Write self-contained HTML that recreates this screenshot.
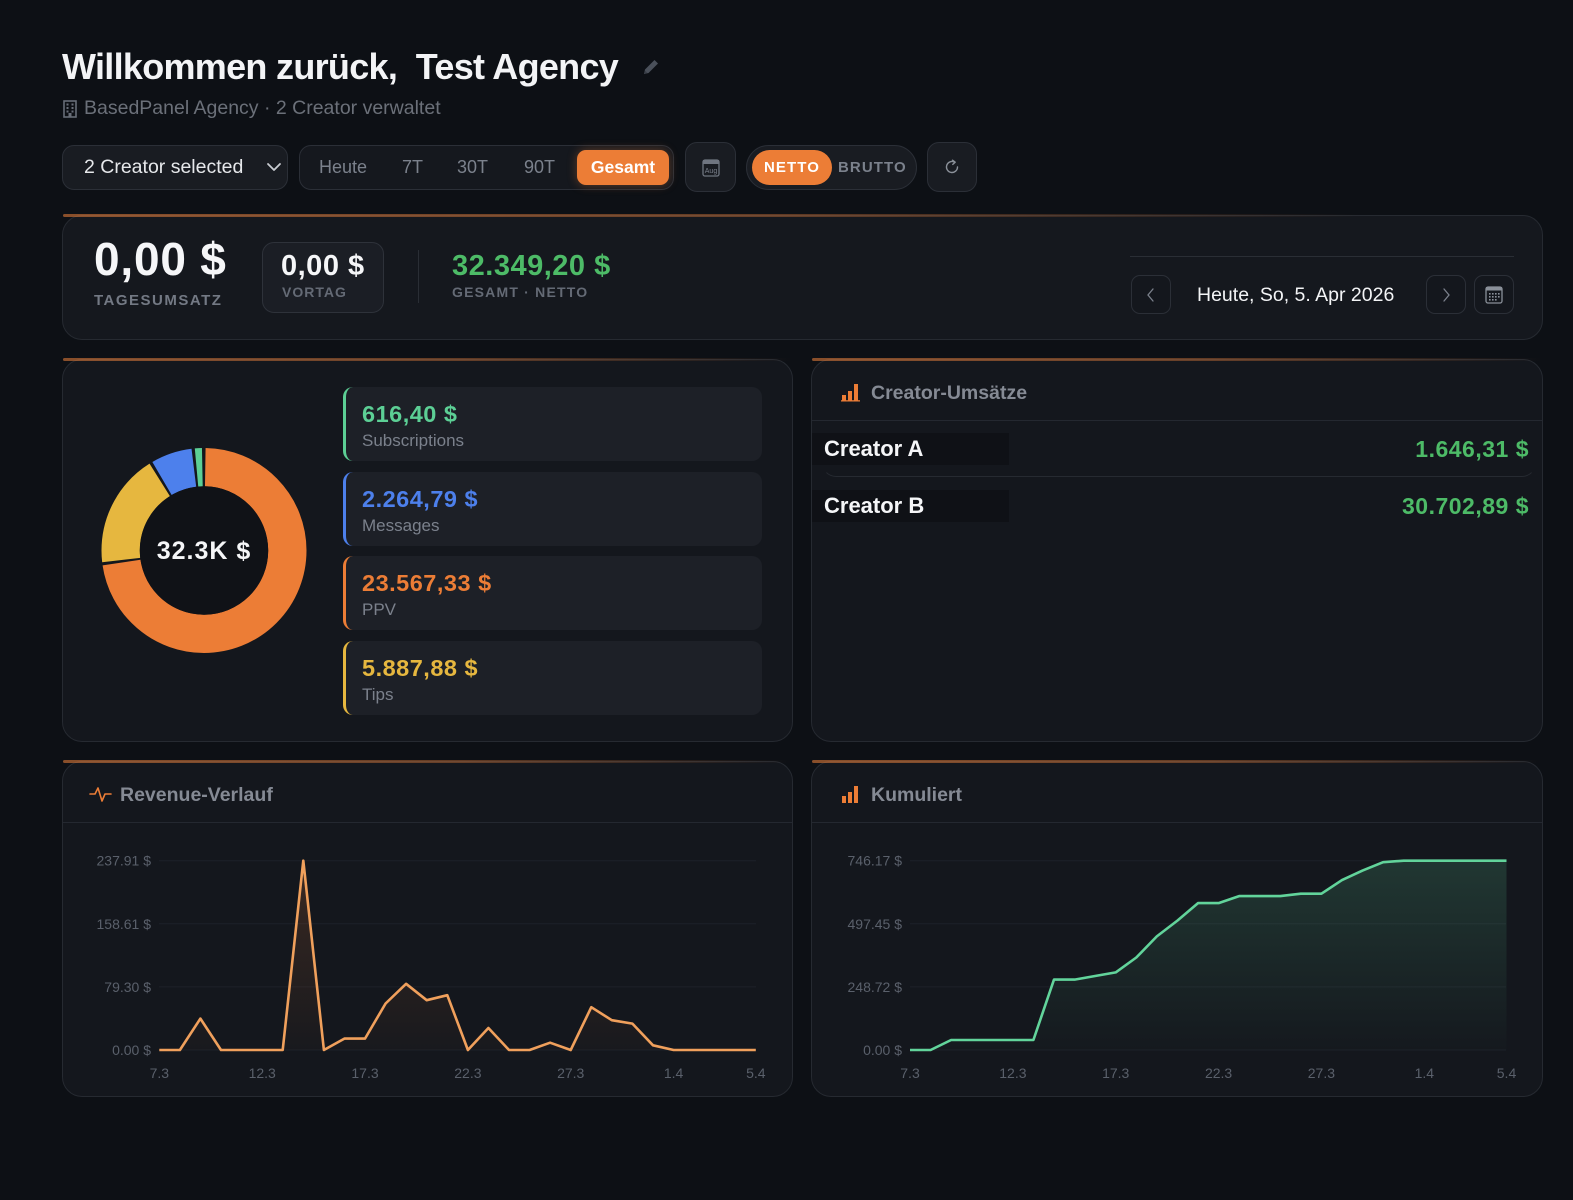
<!DOCTYPE html>
<html>
<head>
<meta charset="utf-8">
<style>
*{box-sizing:border-box;margin:0;padding:0}
html,body{width:1573px;height:1200px;background:#0d1015;overflow:hidden}
body{font-family:"Liberation Sans",Arial,sans-serif;color:#e8eaee}
#root{position:relative;width:1573px;height:1200px;background:#0d1015}
.a{position:absolute;white-space:nowrap}
.card{position:absolute;background:#14171d;border:1px solid #262a31;border-radius:20px}
.accent{position:absolute;height:3px;border-radius:2px;background:linear-gradient(90deg,rgba(214,118,56,0.62),rgba(214,118,56,0.42) 55%,rgba(214,118,56,0))}
.btn{position:absolute;background:#191c22;border:1px solid #2b2f37;border-radius:12px}
.tile{position:absolute;left:343px;width:419px;height:74px;background:#1d2027;border-radius:10px;border-left:3px solid}
.tv{position:absolute;left:16px;top:14px;font-size:23.5px;font-weight:bold;letter-spacing:0.5px;line-height:26px}
.tl{position:absolute;left:16px;top:44px;font-size:17px;color:#7b818c;line-height:20px}
.hdr{position:absolute;font-size:19.5px;font-weight:bold;color:#858a94;line-height:24px}
.divh{position:absolute;height:1px;background:#242830}
</style>
</head>
<body>
<div id="root">

<!-- Title -->
<div class="a" style="left:62px;top:47px;font-size:36px;line-height:40px;font-weight:bold;color:#f3f4f6;letter-spacing:-0.7px">Willkommen zurück,&nbsp; Test Agency</div>
<svg class="a" style="left:640px;top:56px" width="22" height="22" viewBox="0 0 22 22">
  <path d="M4 18 L5 13.5 L14.5 4 L18 7.5 L8.5 17 Z" fill="#4a505a"/>
  <path d="M4 18 L5 14.5 L7.5 17 Z" fill="#3a3f48"/>
</svg>

<!-- Subtitle -->
<svg class="a" style="left:62px;top:100px" width="16" height="18" viewBox="0 0 16 18">
  <rect x="2" y="1" width="12" height="16" fill="none" stroke="#676d77" stroke-width="1.6"/>
  <rect x="4.5" y="3.5" width="2" height="2" fill="#676d77"/><rect x="9.5" y="3.5" width="2" height="2" fill="#676d77"/>
  <rect x="4.5" y="7" width="2" height="2" fill="#676d77"/><rect x="9.5" y="7" width="2" height="2" fill="#676d77"/>
  <rect x="4.5" y="10.5" width="2" height="2" fill="#676d77"/><rect x="9.5" y="10.5" width="2" height="2" fill="#676d77"/>
  <rect x="6.5" y="13" width="3" height="4" fill="#676d77"/>
</svg>
<div class="a" style="left:84px;top:96px;font-size:19.5px;line-height:24px;color:#6b7079">BasedPanel Agency · 2 Creator verwaltet</div>

<!-- Controls -->
<div class="btn" style="left:62px;top:145px;width:226px;height:45px"></div>
<div class="a" style="left:84px;top:155px;font-size:19.5px;line-height:24px;color:#e6e8eb">2 Creator selected</div>
<svg class="a" style="left:265px;top:160px" width="18" height="14" viewBox="0 0 18 14"><path d="M3 4 L9 10 L15 4" fill="none" stroke="#c9ccd2" stroke-width="1.8" stroke-linecap="round" stroke-linejoin="round"/></svg>

<div class="btn" style="left:299px;top:145px;width:375px;height:45px;background:#15181e"></div>
<div class="a" style="left:319px;top:155px;font-size:18px;line-height:24px;color:#7b818c">Heute</div>
<div class="a" style="left:402px;top:155px;font-size:18px;line-height:24px;color:#7b818c">7T</div>
<div class="a" style="left:457px;top:155px;font-size:18px;line-height:24px;color:#7b818c">30T</div>
<div class="a" style="left:524px;top:155px;font-size:18px;line-height:24px;color:#7b818c">90T</div>
<div class="a" style="left:577px;top:150px;width:92px;height:35px;border-radius:9px;background:#ec7d36;box-shadow:0 0 10px rgba(236,125,54,0.35)"></div>
<div class="a" style="left:577px;top:155px;width:92px;text-align:center;font-size:17.5px;line-height:24px;font-weight:bold;color:#fff">Gesamt</div>

<div class="btn" style="left:685px;top:142px;width:51px;height:50px"></div>
<svg class="a" style="left:701px;top:157px" width="20" height="21" viewBox="0 0 20 21">
  <rect x="2" y="3" width="16" height="16" rx="2" fill="none" stroke="#6f7580" stroke-width="1.3"/>
  <rect x="2" y="3" width="16" height="4" fill="#6f7580"/>
  <text x="10" y="16" font-size="7" text-anchor="middle" fill="#7b818c" font-family="Liberation Sans, sans-serif">Aug</text>
</svg>

<div class="a" style="left:746px;top:145px;width:171px;height:45px;border-radius:23px;background:#191c22;border:1px solid #2b2f37"></div>
<div class="a" style="left:752px;top:150px;width:80px;height:35px;border-radius:18px;background:#ec7d36"></div>
<div class="a" style="left:752px;top:156px;width:80px;text-align:center;font-size:15px;line-height:24px;font-weight:bold;color:#fff;letter-spacing:1.1px">NETTO</div>
<div class="a" style="left:838px;top:156px;font-size:15px;line-height:24px;font-weight:bold;color:#7b818c;letter-spacing:1.1px">BRUTTO</div>

<div class="btn" style="left:927px;top:142px;width:50px;height:50px"></div>
<svg class="a" style="left:942px;top:157px" width="20" height="20" viewBox="0 0 20 20">
  <path d="M15.5 10 A5.5 5.5 0 1 1 12.5 5.1" fill="none" stroke="#8a9099" stroke-width="1.4" stroke-linecap="round"/>
  <path d="M10.5 3.2 L13.2 5.2 L10.8 7.4" fill="none" stroke="#8a9099" stroke-width="1.4" stroke-linecap="round" stroke-linejoin="round"/>
</svg>

<!-- Stats card -->
<div class="card" style="left:62px;top:215px;width:1481px;height:125px;background:#15181e"></div>
<div class="accent" style="left:63px;top:214px;width:1300px"></div>
<div class="a" style="left:94px;top:237px;font-size:46px;line-height:44px;font-weight:bold;color:#f5f6f8;letter-spacing:0.8px">0,00 $</div>
<div class="a" style="left:94px;top:291px;font-size:15px;line-height:20px;font-weight:bold;color:#737984;letter-spacing:1.5px">TAGESUMSATZ</div>
<div class="a" style="left:262px;top:242px;width:122px;height:71px;border-radius:12px;background:#1b1e25;border:1px solid #2e323a"></div>
<div class="a" style="left:281px;top:251px;font-size:29px;line-height:30px;font-weight:bold;color:#f5f6f8;letter-spacing:0.5px">0,00 $</div>
<div class="a" style="left:282px;top:283px;font-size:14px;line-height:18px;font-weight:bold;color:#646a75;letter-spacing:1px">VORTAG</div>
<div class="a" style="left:418px;top:250px;width:1px;height:53px;background:#2a2e35"></div>
<div class="a" style="left:452px;top:251px;font-size:29px;line-height:30px;font-weight:bold;color:#4dbb67;letter-spacing:0.5px">32.349,20 $</div>
<div class="a" style="left:452px;top:283px;font-size:14px;line-height:18px;font-weight:bold;color:#646a75;letter-spacing:1.2px">GESAMT · NETTO</div>

<div class="a" style="left:1130px;top:256px;width:384px;height:1px;background:#2a2e35"></div>
<div class="a" style="left:1131px;top:275px;width:40px;height:39px;border-radius:9px;border:1px solid #2b2f37;background:#14171d"></div>
<svg class="a" style="left:1141px;top:285px" width="20" height="20" viewBox="0 0 20 20"><path d="M12 4 L7 10 L12 16" fill="none" stroke="#7b818c" stroke-width="1.3" stroke-linecap="round"/></svg>
<div class="a" style="left:1197px;top:283px;font-size:19.5px;line-height:24px;color:#f3f4f6">Heute, So, 5. Apr 2026</div>
<div class="a" style="left:1426px;top:275px;width:40px;height:39px;border-radius:9px;border:1px solid #2b2f37;background:#14171d"></div>
<svg class="a" style="left:1436px;top:285px" width="20" height="20" viewBox="0 0 20 20"><path d="M8 4 L13 10 L8 16" fill="none" stroke="#7b818c" stroke-width="1.3" stroke-linecap="round"/></svg>
<div class="a" style="left:1474px;top:275px;width:40px;height:39px;border-radius:9px;border:1px solid #2b2f37;background:#14171d"></div>
<svg class="a" style="left:1484px;top:285px" width="20" height="20" viewBox="0 0 20 20">
  <rect x="2" y="2" width="16" height="16" rx="2" fill="none" stroke="#8a9099" stroke-width="1.3"/>
  <rect x="2" y="2" width="16" height="3.5" fill="#8a9099"/>
  <g fill="#8a9099"><rect x="5" y="8" width="1.6" height="1.6"/><rect x="8" y="8" width="1.6" height="1.6"/><rect x="11" y="8" width="1.6" height="1.6"/><rect x="14" y="8" width="1.6" height="1.6"/>
  <rect x="5" y="11" width="1.6" height="1.6"/><rect x="8" y="11" width="1.6" height="1.6"/><rect x="11" y="11" width="1.6" height="1.6"/><rect x="14" y="11" width="1.6" height="1.6"/>
  <rect x="5" y="14" width="1.6" height="1.6"/><rect x="8" y="14" width="1.6" height="1.6"/><rect x="11" y="14" width="1.6" height="1.6"/></g>
</svg>

<!-- Middle left card -->
<div class="card" style="left:62px;top:359px;width:731px;height:383px"></div>
<div class="accent" style="left:63px;top:358px;width:729px"></div>
<svg class="a" style="left:0;top:0" width="400" height="700" viewBox="0 0 400 700">
  <g transform="rotate(-90 204 550.5)" fill="none" stroke-width="38.3">
    <circle cx="204" cy="550.5" r="83.35" stroke="#ec7d36" stroke-dasharray="379.2 2000" stroke-dashoffset="-1.3"/>
    <circle cx="204" cy="550.5" r="83.35" stroke="#e6b73f" stroke-dasharray="93.8 2000" stroke-dashoffset="-383"/>
    <circle cx="204" cy="550.5" r="83.35" stroke="#4d80ec" stroke-dasharray="33.8 2000" stroke-dashoffset="-479.5"/>
    <circle cx="204" cy="550.5" r="83.35" stroke="#5ccf95" stroke-dasharray="5.8 2000" stroke-dashoffset="-516"/>
  </g>
  <circle cx="204" cy="550.5" r="64.2" fill="#101217"/>
</svg>
<div class="a" style="left:104px;top:536px;width:200px;text-align:center;font-size:25px;line-height:30px;font-weight:bold;color:#f5f6f8;letter-spacing:1px">32.3K $</div>

<div class="tile" style="top:387px;border-left-color:#5ccf95"><div class="tv" style="color:#5ccf95">616,40 $</div><div class="tl">Subscriptions</div></div>
<div class="tile" style="top:471.5px;border-left-color:#4d80ec"><div class="tv" style="color:#4d80ec">2.264,79 $</div><div class="tl">Messages</div></div>
<div class="tile" style="top:556px;border-left-color:#ec7d36"><div class="tv" style="color:#ec7d36">23.567,33 $</div><div class="tl">PPV</div></div>
<div class="tile" style="top:640.5px;border-left-color:#e6b73f"><div class="tv" style="color:#e6b73f">5.887,88 $</div><div class="tl">Tips</div></div>

<!-- Middle right card -->
<div class="card" style="left:811px;top:359px;width:732px;height:383px"></div>
<div class="accent" style="left:812px;top:358px;width:730px"></div>
<svg class="a" style="left:840px;top:382px" width="22" height="20" viewBox="0 0 22 20">
  <rect x="2" y="13" width="4" height="6" fill="#ec7d36"/><rect x="8" y="9" width="4" height="10" fill="#ec7d36"/><rect x="14" y="2" width="4" height="17" fill="#ec7d36"/>
  <rect x="1" y="18.2" width="19" height="1.3" fill="#ec7d36"/>
</svg>
<div class="hdr" style="left:871px;top:381px">Creator-Umsätze</div>
<div class="divh" style="left:812px;top:420px;width:730px"></div>
<div class="a" style="left:822px;top:421px;width:714px;height:56px;border:1px solid transparent;border-bottom-color:#262a31;border-radius:0 0 14px 14px"></div>
<div class="a" style="left:812px;top:433px;width:197px;height:32px;background:#0f1116"></div>
<div class="a" style="left:824px;top:436px;font-size:22px;line-height:26px;font-weight:bold;color:#f5f6f8">Creator A</div>
<div class="a" style="right:44px;top:436px;font-size:23px;line-height:26px;font-weight:bold;color:#4dbb67;letter-spacing:0.5px">1.646,31 $</div>
<div class="a" style="left:812px;top:490px;width:197px;height:32px;background:#0f1116"></div>
<div class="a" style="left:824px;top:492.5px;font-size:22px;line-height:26px;font-weight:bold;color:#f5f6f8">Creator B</div>
<div class="a" style="right:44px;top:492.5px;font-size:23px;line-height:26px;font-weight:bold;color:#4dbb67;letter-spacing:0.5px">30.702,89 $</div>

<!-- Bottom left card -->
<div class="card" style="left:62px;top:761px;width:731px;height:336px"></div>
<div class="accent" style="left:63px;top:760px;width:729px"></div>
<svg class="a" style="left:89px;top:784px" width="24" height="20" viewBox="0 0 24 20">
  <path d="M1 10 L6 10 L9 4 L13 17 L16 10 L22 10" fill="none" stroke="#ec7d36" stroke-width="1.6" stroke-linejoin="round" stroke-linecap="round"/>
</svg>
<div class="hdr" style="left:120px;top:783px">Revenue-Verlauf</div>
<div class="divh" style="left:63px;top:822px;width:729px"></div>

<!-- Bottom right card -->
<div class="card" style="left:811px;top:761px;width:732px;height:336px"></div>
<div class="accent" style="left:812px;top:760px;width:730px"></div>
<svg class="a" style="left:840px;top:784px" width="22" height="20" viewBox="0 0 22 20">
  <rect x="2" y="12" width="4" height="7" fill="#ec7d36"/><rect x="8" y="8" width="4" height="11" fill="#ec7d36"/><rect x="14" y="2" width="4" height="17" fill="#ec7d36"/>
</svg>
<div class="hdr" style="left:871px;top:783px">Kumuliert</div>
<div class="divh" style="left:812px;top:822px;width:730px"></div>

<!-- Charts -->
<svg class="a" style="left:0;top:0" width="1573" height="1200" viewBox="0 0 1573 1200">
  <defs>
    <linearGradient id="gO" x1="0" y1="0" x2="0" y2="1">
      <stop offset="0" stop-color="#ec7d36" stop-opacity="0.18"/>
      <stop offset="1" stop-color="#ec7d36" stop-opacity="0.02"/>
    </linearGradient>
    <linearGradient id="gG" x1="0" y1="0" x2="0" y2="1">
      <stop offset="0" stop-color="#5fd49a" stop-opacity="0.17"/>
      <stop offset="1" stop-color="#5fd49a" stop-opacity="0.01"/>
    </linearGradient>
  </defs>
  <g stroke="#1d2129" stroke-width="1">
    <line x1="159" y1="860.7" x2="756" y2="860.7"/>
    <line x1="159" y1="923.8" x2="756" y2="923.8"/>
    <line x1="159" y1="986.9" x2="756" y2="986.9"/>
    <line x1="159" y1="1050" x2="756" y2="1050"/>
    <line x1="910" y1="860.7" x2="1506" y2="860.7"/>
    <line x1="910" y1="923.8" x2="1506" y2="923.8"/>
    <line x1="910" y1="986.9" x2="1506" y2="986.9"/>
    <line x1="910" y1="1050" x2="1506" y2="1050"/>
  </g>
  <g font-family="Liberation Sans, sans-serif" font-size="14" fill="#5a606b" text-anchor="end" dominant-baseline="central">
    <text x="151" y="860.7">237.91 $</text>
    <text x="151" y="923.8">158.61 $</text>
    <text x="151" y="986.9">79.30 $</text>
    <text x="151" y="1050">0.00 $</text>
    <text x="902" y="860.7">746.17 $</text>
    <text x="902" y="923.8">497.45 $</text>
    <text x="902" y="986.9">248.72 $</text>
    <text x="902" y="1050">0.00 $</text>
  </g>
  <g font-family="Liberation Sans, sans-serif" font-size="14" fill="#5a606b" text-anchor="middle" dominant-baseline="central">
    <text x="159.3" y="1073">7.3</text>
    <text x="262.2" y="1073">12.3</text>
    <text x="365" y="1073">17.3</text>
    <text x="467.9" y="1073">22.3</text>
    <text x="570.7" y="1073">27.3</text>
    <text x="673.6" y="1073">1.4</text>
    <text x="755.8" y="1073">5.4</text>
    <text x="910" y="1073">7.3</text>
    <text x="1012.9" y="1073">12.3</text>
    <text x="1115.7" y="1073">17.3</text>
    <text x="1218.6" y="1073">22.3</text>
    <text x="1321.4" y="1073">27.3</text>
    <text x="1424.3" y="1073">1.4</text>
    <text x="1506.5" y="1073">5.4</text>
  </g>
  <path fill="url(#gO)" d="M159.3,1050 L179.9,1050 200.4,1018.6 221.0,1050 241.6,1050 262.2,1050 282.7,1050 303.3,860.7 323.9,1050 344.4,1038.6 365.0,1038.6 385.6,1003.5 406.1,983.8 426.7,1000.2 447.3,995.2 467.9,1050 488.4,1028.0 509.0,1050 529.6,1050 550.1,1042.7 570.7,1050 591.3,1007.2 611.8,1020.2 632.4,1023.6 653.0,1045.3 673.6,1050 694.1,1050 714.7,1050 735.3,1050 755.8,1050 Z"/>
  <polyline fill="none" stroke="#f0a05c" stroke-width="2.6" stroke-linejoin="round" points="159.3,1050 179.9,1050 200.4,1018.6 221.0,1050 241.6,1050 262.2,1050 282.7,1050 303.3,860.7 323.9,1050 344.4,1038.6 365.0,1038.6 385.6,1003.5 406.1,983.8 426.7,1000.2 447.3,995.2 467.9,1050 488.4,1028.0 509.0,1050 529.6,1050 550.1,1042.7 570.7,1050 591.3,1007.2 611.8,1020.2 632.4,1023.6 653.0,1045.3 673.6,1050 694.1,1050 714.7,1050 735.3,1050 755.8,1050"/>
  <path fill="url(#gG)" d="M910,1050 L930.6,1050 951.1,1040.0 971.7,1040.0 992.3,1040.0 1012.9,1040.0 1033.4,1040.0 1054.0,979.6 1074.6,979.6 1095.1,976.0 1115.7,972.4 1136.3,957.5 1156.8,936.4 1177.4,920.6 1198.0,903.1 1218.6,903.1 1239.1,896.1 1259.7,896.1 1280.3,896.1 1300.8,893.7 1321.4,893.7 1342.0,880.1 1362.5,870.6 1383.1,862.2 1403.7,860.7 1424.3,860.7 1444.8,860.7 1465.4,860.7 1486.0,860.7 1506.5,860.7 L1506.5,1050 Z"/>
  <polyline fill="none" stroke="#62d49b" stroke-width="2.6" stroke-linejoin="round" points="910,1050 930.6,1050 951.1,1040.0 971.7,1040.0 992.3,1040.0 1012.9,1040.0 1033.4,1040.0 1054.0,979.6 1074.6,979.6 1095.1,976.0 1115.7,972.4 1136.3,957.5 1156.8,936.4 1177.4,920.6 1198.0,903.1 1218.6,903.1 1239.1,896.1 1259.7,896.1 1280.3,896.1 1300.8,893.7 1321.4,893.7 1342.0,880.1 1362.5,870.6 1383.1,862.2 1403.7,860.7 1424.3,860.7 1444.8,860.7 1465.4,860.7 1486.0,860.7 1506.5,860.7"/>
</svg>

</div>
</body>
</html>
